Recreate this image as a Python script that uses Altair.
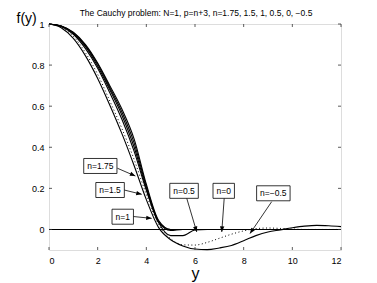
import math
import altair as alt
import pandas as pd

# ---- data ----
y_grid = [0, 0.5, 1, 1.5, 2, 2.5, 3, 3.5, 4, 4.5, 5, 5.5, 6, 6.5, 7, 7.5, 8, 8.5,
          9, 9.5, 10, 10.5, 11, 11.5, 12]

f_n_m05 = [1.0, 0.982, 0.93, 0.845, 0.735, 0.605, 0.465, 0.31, 0.145, 0.01, -0.05, -0.08,
           -0.095, -0.098, -0.09, -0.078, -0.055, -0.03, -0.012, -0.002, 0.008, 0.016, 0.02,
           0.018, 0.014]
f_n_0 = [1.0, 0.985, 0.94, 0.86, 0.755, 0.625, 0.49, 0.34, 0.17, 0.025, -0.045, -0.075,
         -0.076, -0.063, -0.043, -0.023, -0.007, 0.004, 0.007, 0.005, 0.002, 0.0, 0.0, 0.0, 0.0]
f_n_05 = [1.0, 0.988, 0.95, 0.88, 0.785, 0.665, 0.535, 0.38, 0.19, 0.035, -0.03, -0.03,
          -0.003, 0.0, 0.0, 0.0, 0.0, 0.0, 0.0, 0.0, 0.0, 0.0, 0.0, 0.0, 0.0]
f_n_1 = [1.0, 0.99, 0.955, 0.89, 0.795, 0.68, 0.555, 0.40, 0.20, 0.035, -0.005, 0.0,
         0.0, 0.0, 0.0, 0.0, 0.0, 0.0, 0.0, 0.0, 0.0, 0.0, 0.0, 0.0, 0.0]
f_n_15 = [1.0, 0.99, 0.958, 0.895, 0.805, 0.69, 0.57, 0.42, 0.21, 0.04, 0.0, 0.0,
          0.0, 0.0, 0.0, 0.0, 0.0, 0.0, 0.0, 0.0, 0.0, 0.0, 0.0, 0.0, 0.0]
f_n_175 = [1.0, 0.99, 0.96, 0.90, 0.81, 0.70, 0.585, 0.44, 0.22, 0.045, 0.0, 0.0,
           0.0, 0.0, 0.0, 0.0, 0.0, 0.0, 0.0, 0.0, 0.0, 0.0, 0.0, 0.0, 0.0]

series_names = ["n=-0.5", "n=0", "n=0.5", "n=1", "n=1.5", "n=1.75"]
series_values = [f_n_m05, f_n_0, f_n_05, f_n_1, f_n_15, f_n_175]
dotted_series = ["n=0"]

x_ticks = [0, 2, 4, 6, 8, 10, 12]
y_ticks = [0, 0.2, 0.4, 0.6, 0.8, 1]
zero_level = [0.0]

# annotation labels: box centre (x, f), arrow start (x, f), arrow tip (x, f)
ann_text = ["n=1.75", "n=1.5", "n=1", "n=0.5", "n=0", "n=\u22120.5"]
ann_cx = [2.11, 2.51, 3.03, 5.55, 7.18, 9.22]
ann_cy = [0.309, 0.192, 0.062, 0.188, 0.188, 0.176]
ann_sx = [2.81, 3.09, 3.46, 5.66, 7.20, 9.15]
ann_sy = [0.298, 0.192, 0.063, 0.152, 0.152, 0.135]
ann_tx = [3.55, 3.81, 4.22, 6.07, 7.10, 8.26]
ann_ty = [0.26, 0.171, 0.054, -0.012, -0.012, -0.02]

title_text = ["The Cauchy problem: N=1, p=n+3, n=1.75, 1.5, 1, 0.5, 0, \u22120.5"]

# ---- geometry / style ----
W, H = 292, 226
X_DOM = [0, 12]
Y_DOM = [-0.1, 1]
FONT = "Liberation Sans"
px_x = W / (X_DOM[1] - X_DOM[0])
px_y = H / (Y_DOM[1] - Y_DOM[0])

rows = []
for name, vals in zip(series_names, series_values):
    for yy, ff in zip(y_grid, vals):
        rows.append({"y": yy, "f": ff, "n": name, "dotted": name in dotted_series})
curves = pd.DataFrame(rows)

xs = alt.Scale(domain=X_DOM, nice=False, zero=False)
ys = alt.Scale(domain=Y_DOM, nice=False, zero=False)

x_axis = alt.Axis(values=x_ticks, format="~g", ticks=False, domain=False, grid=False,
                  labelFont=FONT, labelFontSize=9, labelPadding=6, labelColor="#000",
                  title="y", titleFont=FONT, titleFontSize=16, titleFontWeight="normal",
                  titlePadding=0, titleColor="#000")
y_axis = alt.Axis(values=y_ticks, format="~g", ticks=False, domain=False, grid=False,
                  labelFont=FONT, labelFontSize=9, labelPadding=5, labelColor="#000",
                  title="f(y)", titleFont=FONT, titleFontSize=14, titleFontWeight="normal",
                  titleAngle=0, titleX=-33, titleY=-6, titleAlign="left",
                  titleBaseline="middle", titleColor="#000")

base = alt.Chart(curves)
solid = base.transform_filter("!datum.dotted").mark_line(
    interpolate="monotone", color="black", strokeWidth=1.1
).encode(
    x=alt.X("y:Q", scale=xs, axis=x_axis),
    y=alt.Y("f:Q", scale=ys, axis=y_axis),
    detail="n:N",
)
dotted = base.transform_filter("datum.dotted").mark_line(
    interpolate="monotone", color="black", strokeWidth=1.0, strokeDash=[1, 2.5]
).encode(x=alt.X("y:Q", scale=xs), y=alt.Y("f:Q", scale=ys), detail="n:N")

zero = alt.Chart(pd.DataFrame({"f": zero_level})).mark_rule(color="black", strokeWidth=1.1).encode(
    y=alt.Y("f:Q", scale=ys), x=alt.value(0), x2=alt.value(W)
)

# inward ticks on all four sides
xt = pd.DataFrame({"t": x_ticks})
yt = pd.DataFrame({"t": y_ticks})
tick_len = 3
tick_style = dict(color="#333", strokeWidth=0.8)
tb = alt.Chart(xt).mark_rule(**tick_style).encode(
    x=alt.X("t:Q", scale=xs), y=alt.value(H - tick_len), y2=alt.value(H))
tt = alt.Chart(xt).mark_rule(**tick_style).encode(
    x=alt.X("t:Q", scale=xs), y=alt.value(0), y2=alt.value(tick_len))
tl = alt.Chart(yt).mark_rule(**tick_style).encode(
    y=alt.Y("t:Q", scale=ys), x=alt.value(0), x2=alt.value(tick_len))
tr = alt.Chart(yt).mark_rule(**tick_style).encode(
    y=alt.Y("t:Q", scale=ys), x=alt.value(W - tick_len), x2=alt.value(W))

# title as a text mark above the plot
title = alt.Chart(pd.DataFrame({"t": title_text})).mark_text(
    font=FONT, fontSize=8.5, color="black", align="center", baseline="middle"
).encode(text="t:N", x=alt.value(W / 2 + 1), y=alt.value(-11))

# annotations
char_w = {"n": 4.73, "=": 4.96, ".": 2.36, "\u2212": 4.96}
ann_rows = []
for t, cx, cy, sx, sy, tx, ty in zip(ann_text, ann_cx, ann_cy, ann_sx, ann_sy, ann_tx, ann_ty):
    tw = sum(char_w.get(c, 4.73) for c in t) + 7
    hw = tw / 2 / px_x
    hh = 7.5 / px_y
    dxp = (tx - sx) * px_x
    dyp = -(ty - sy) * px_y
    ang = math.degrees(math.atan2(dxp, -dyp)) % 360
    ann_rows.append({"text": t, "cx": cx, "cy": cy, "x0": cx - hw, "x1": cx + hw,
                     "y0": cy - hh, "y1": cy + hh, "sx": sx, "sy": sy, "tx": tx, "ty": ty,
                     "ang": ang})
ann = pd.DataFrame(ann_rows)
abase = alt.Chart(ann)
arrow_lines = abase.mark_rule(color="black", strokeWidth=0.8).encode(
    x=alt.X("sx:Q", scale=xs), y=alt.Y("sy:Q", scale=ys), x2="tx:Q", y2="ty:Q")
arrow_heads = abase.mark_point(shape="M0,0L-0.4,1L0.4,1Z", filled=True, color="black",
                               opacity=1, size=120).encode(
    x=alt.X("tx:Q", scale=xs), y=alt.Y("ty:Q", scale=ys), angle=alt.Angle("ang:Q", scale=None))
boxes = abase.mark_rect(fill="white", stroke="black", strokeWidth=0.8).encode(
    x=alt.X("x0:Q", scale=xs), x2="x1:Q", y=alt.Y("y0:Q", scale=ys), y2="y1:Q")
labels = abase.mark_text(font=FONT, fontSize=8.5, color="black", align="center",
                         baseline="middle").encode(
    x=alt.X("cx:Q", scale=xs), y=alt.Y("cy:Q", scale=ys), text="text:N")

chart = alt.layer(
    solid, dotted, zero, tb, tt, tl, tr, arrow_lines, arrow_heads, boxes, labels, title
).properties(
    width=W, height=H,
    autosize=alt.AutoSizeParams(type="none"),
    padding={"left": 41, "top": 16, "right": 20, "bottom": 32},
).configure_view(stroke="#333", strokeWidth=1).configure(background="white")

chart.save("out.html", embed_options={"renderer": "svg", "actions": False})
